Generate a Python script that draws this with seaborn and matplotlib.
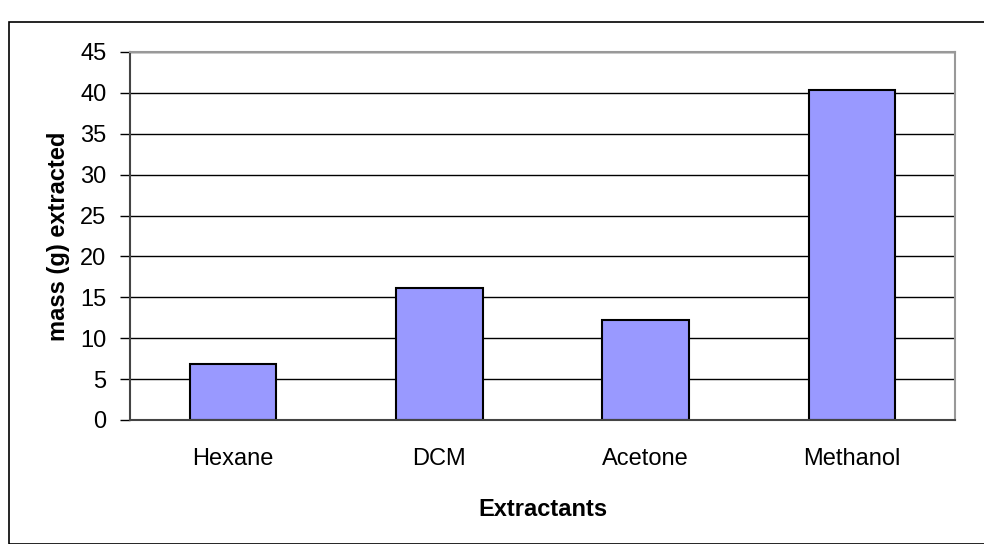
import matplotlib
matplotlib.use('Agg')
import matplotlib.pyplot as plt
import seaborn as sns
import pandas as pd
from matplotlib.patches import Rectangle

# Data
extractants = ['Hexane', 'DCM', 'Acetone', 'Methanol']
mass_extracted = [6.8, 16.2, 12.2, 40.4]

data = pd.DataFrame({'Extractant': extractants, 'Mass': mass_extracted})

sns.set_style('white')
plt.rcParams['font.family'] = ['Liberation Sans', 'DejaVu Sans']
plt.rcParams['text.color'] = 'black'
plt.rcParams['axes.labelcolor'] = 'black'
plt.rcParams['xtick.color'] = 'black'
plt.rcParams['ytick.color'] = 'black'

fig = plt.figure(figsize=(9.84, 5.44), dpi=100)
ax = fig.add_axes([130 / 984, 1 - 420 / 544, 825 / 984, 368 / 544])

sns.barplot(x='Extractant', y='Mass', data=data, color='#9999FF',
            edgecolor='black', linewidth=1.5, width=0.42, saturation=1, ax=ax)

ax.set_ylim(0, 45)
ax.set_xlim(-0.5, 3.5)
ax.set_yticks(range(0, 46, 5))
ax.yaxis.grid(True, color='black', linewidth=1)
ax.set_axisbelow(True)

# category ticks sit between bars
ax.tick_params(axis='x', which='major', length=0, labelsize=17, pad=20)
ax.set_xticks([-0.5, 0.5, 1.5, 2.5, 3.5], minor=True)
ax.tick_params(axis='x', which='minor', direction='out', length=7, width=1, color='black')
ax.tick_params(axis='y', direction='out', length=7, width=1, color='black', labelsize=17, left=True, pad=10)

for side in ['top', 'right']:
    ax.spines[side].set_color('#999999')
    ax.spines[side].set_linewidth(1.5)
for side in ['left', 'bottom']:
    ax.spines[side].set_color('#444444')
    ax.spines[side].set_linewidth(1.5)

ax.set_xlabel('Extractants', fontsize=17, fontweight='bold', labelpad=20)
ax.set_ylabel('mass (g) extracted', fontsize=17, fontweight='bold', labelpad=7)

# outer chart frame
fig.patches.append(Rectangle((9 / 984, 0), 1, 1 - 22 / 544, transform=fig.transFigure,
                             fill=False, edgecolor='black', linewidth=1.2))

fig.savefig('out.png', dpi=100)
